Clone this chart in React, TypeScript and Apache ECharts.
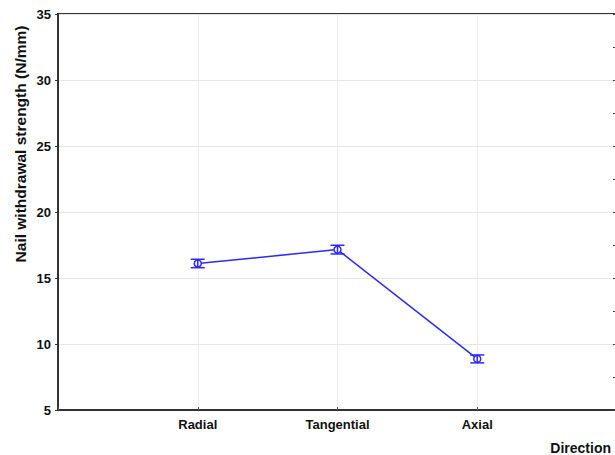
import React, { useEffect, useRef } from "react";
import * as echarts from "echarts";

const categories = ["", "Radial", "Tangential", "Axial", ""];
const means = [16.1, 17.15, 8.87];
const errors = [0.32, 0.33, 0.3];
const yTicks = { min: 5, max: 35, interval: 5 };

export default function App() {
  const ref = useRef<HTMLDivElement>(null);
  useEffect(() => {
    if (!ref.current) return;
    const chart = echarts.init(ref.current, null, { renderer: "svg" });
    const lineData = ["-", ...means, "-"];
    const errData = means.map((m, i) => [i + 1, m - errors[i], m + errors[i]]);
    const blue = "#2a2aff";
    const font = "Liberation Sans, Arial, sans-serif";
    chart.setOption({
      animation: false,
      backgroundColor: "#fff",
      grid: {
        left: 58,
        right: 3,
        top: 14,
        bottom: 45,
        show: true,
        borderColor: "#333",
        borderWidth: 2,
      },
      xAxis: {
        type: "category",
        data: categories,
        boundaryGap: false,
        axisLine: { lineStyle: { color: "#333", width: 2 } },
        axisTick: { inside: true, length: 3, lineStyle: { color: "#555" } },
        axisLabel: {
          color: "#111",
          fontWeight: "bold",
          fontSize: 13,
          fontFamily: font,
          margin: 8,
        },
        splitLine: { show: true, lineStyle: { color: "#ececec", width: 1 } },
      },
      yAxis: [
        {
          type: "value",
          min: yTicks.min,
          max: yTicks.max,
          interval: yTicks.interval,
          axisLine: { show: true, lineStyle: { color: "#333", width: 2 } },
          axisTick: { show: true, length: 3, lineStyle: { color: "#333" } },
          axisLabel: {
            color: "#111",
            fontWeight: "bold",
            fontSize: 13,
            fontFamily: font,
            margin: 7,
          },
          splitLine: { show: true, lineStyle: { color: "#e6e6e6", width: 1 } },
        },
        {
          type: "value",
          position: "right",
          min: yTicks.min,
          max: yTicks.max,
          interval: 2.5,
          axisLine: { show: true, lineStyle: { color: "#333", width: 2 } },
          axisTick: { show: true, inside: true, length: 4, lineStyle: { color: "#444" } },
          axisLabel: { show: false },
          splitLine: { show: false },
        },
      ],
      graphic: [
        {
          type: "text",
          x: 20,
          y: 144,
          rotation: Math.PI / 2,
          style: {
            text: "Nail withdrawal strength (N/mm)",
            font: `bold 15.5px ${font}`,
            fill: "#111",
            align: "center",
            verticalAlign: "middle",
          },
        },
        {
          type: "text",
          x: 611,
          y: 448,
          style: {
            text: "Direction",
            font: `bold 14px ${font}`,
            fill: "#111",
            align: "right",
            verticalAlign: "middle",
          },
        },
      ],
      series: [
        {
          type: "line",
          data: lineData,
          yAxisIndex: 0,
          symbol: "circle",
          symbolSize: 7,
          itemStyle: { color: "#fff", borderColor: blue, borderWidth: 1.5 },
          lineStyle: { color: blue, width: 1.5 },
          z: 3,
        },
        {
          type: "custom",
          yAxisIndex: 0,
          data: errData,
          z: 4,
          renderItem: (params: any, api: any) => {
            const x = api.value(0);
            const lo = api.coord([x, api.value(1)]);
            const hi = api.coord([x, api.value(2)]);
            const hw = 7;
            const style = { stroke: blue, lineWidth: 1.5 };
            return {
              type: "group",
              children: [
                { type: "line", shape: { x1: lo[0], y1: lo[1], x2: hi[0], y2: hi[1] }, style },
                { type: "line", shape: { x1: lo[0] - hw, y1: lo[1], x2: lo[0] + hw, y2: lo[1] }, style },
                { type: "line", shape: { x1: hi[0] - hw, y1: hi[1], x2: hi[0] + hw, y2: hi[1] }, style },
              ],
            };
          },
        },
      ],
    });
    return () => chart.dispose();
  }, []);
  return (
    <div
      ref={ref}
      style={{ position: "fixed", left: 0, top: 0, width: 620, height: 455 }}
    />
  );
}
